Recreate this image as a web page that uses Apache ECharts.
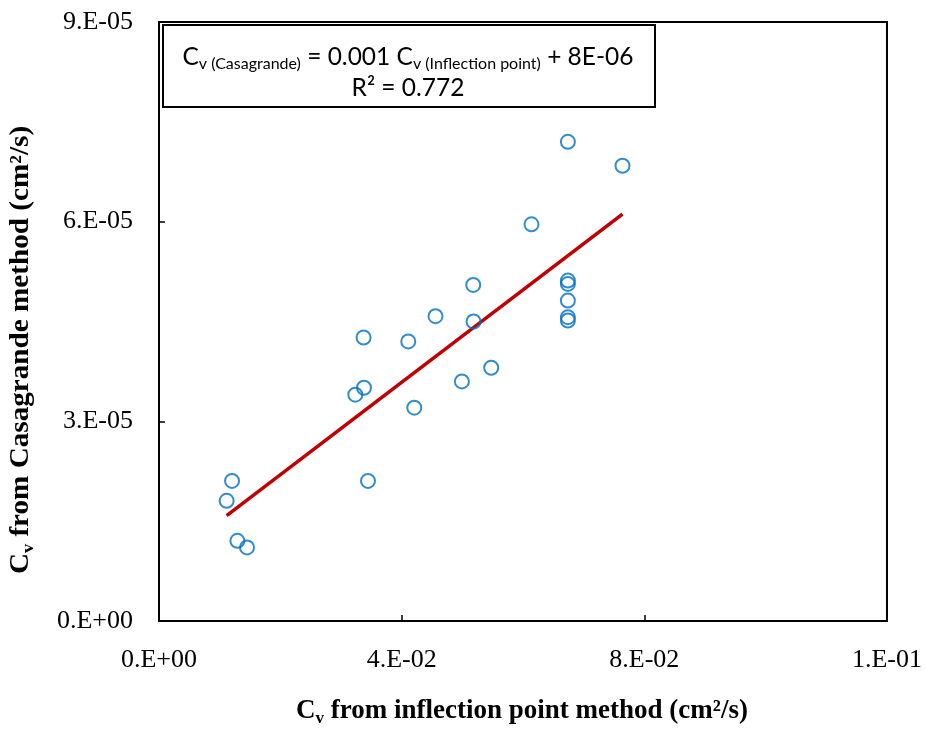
<!DOCTYPE html>
<html>
<head>
<meta charset="utf-8">
<script src="https://cdn.jsdelivr.net/npm/echarts@6/dist/echarts.min.js"></script>
<style>
html,body{margin:0;padding:0;background:#fff;}
#chart{width:925px;height:729px;}
</style>
</head>
<body>
<div id="chart"></div>
<script>
// Cv from inflection point method (cm2/s)
const xValues = [0.01115, 0.01204, 0.01292, 0.01451, 0.03236, 0.03379, 0.03372, 0.03445,
  0.04109, 0.04208, 0.04558, 0.04993, 0.0518, 0.05185, 0.05476, 0.0614, 0.0674, 0.0764,
  0.0674, 0.0674, 0.0674, 0.0674, 0.0674];
// Cv from Casagrande method (cm2/s)
const yValues = [1.805e-5, 2.105e-5, 1.205e-5, 1.105e-5, 3.40e-5, 3.505e-5, 4.26e-5, 2.105e-5,
  4.20e-5, 3.205e-5, 4.58e-5, 3.60e-5, 5.05e-5, 4.50e-5, 3.805e-5, 5.96e-5, 7.20e-5, 6.84e-5,
  5.115e-5, 5.065e-5, 4.815e-5, 4.565e-5, 4.515e-5];
const xTickLabels = ['0.E+00', '4.E-02', '8.E-02', '1.E-01'];
const yTickLabels = ['0.E+00', '3.E-05', '6.E-05', '9.E-05'];
const equationText = ['C', 'v (Casagrande)', ' = 0.001 C', 'v (Inflection point)', ' + 8E-06'];
const r2Text = 'R² = 0.772';

// least-squares trend line from the data
const n = xValues.length;
let sx = 0, sy = 0, sxx = 0, sxy = 0;
for (let i = 0; i < n; i++) { sx += xValues[i]; sy += yValues[i]; sxx += xValues[i]*xValues[i]; sxy += xValues[i]*yValues[i]; }
const slope = (n*sxy - sx*sy) / (n*sxx - sx*sx);
const intercept = (sy - slope*sx) / n;
const xMin = Math.min(...xValues), xMax = Math.max(...xValues);
const trend = [[xMin, intercept + slope*xMin], [xMax, intercept + slope*xMax]];
const points = xValues.map((x, i) => [x, yValues[i]]);

const chart = echarts.init(document.getElementById('chart'));
const serif = '"Liberation Serif", "Times New Roman", serif';
const sans = 'Lato, "Liberation Sans", sans-serif';
const titleRich = {
  a: {fontFamily: serif, fontWeight: 'bold', fontSize: 27, lineHeight: 32, color: '#000'},
  s: {fontFamily: serif, fontWeight: 'bold', fontSize: 17, lineHeight: 17, verticalAlign: 'bottom', color: '#000'}
};
chart.setOption({
  animation: false,
  backgroundColor: '#fff',
  grid: {left: 159, right: 38, top: 22, bottom: 108, show: true, borderColor: '#000', borderWidth: 2, backgroundColor: 'transparent'},
  xAxis: {
    type: 'value', min: 0, max: 0.12, interval: 0.04,
    axisLine: {show: true, lineStyle: {color: '#000', width: 2}},
    axisTick: {show: true, inside: true, length: 6, lineStyle: {color: '#000', width: 1.5}},
    splitLine: {show: false},
    axisLabel: {margin: 26, fontFamily: serif, fontSize: 26, color: '#000',
      formatter: (v, i) => xTickLabels[i]}
  },
  yAxis: {
    type: 'value', min: 0, max: 9e-5, interval: 3e-5,
    axisLine: {show: true, lineStyle: {color: '#000', width: 2}},
    axisTick: {show: true, inside: true, length: 6, lineStyle: {color: '#000', width: 1.5}},
    splitLine: {show: false},
    axisLabel: {margin: 26, fontFamily: serif, fontSize: 26, color: '#000',
      formatter: (v, i) => yTickLabels[i]}
  },
  series: [
    {
      type: 'scatter', data: points, symbol: 'circle', symbolSize: 14,
      itemStyle: {color: 'transparent', borderColor: '#0070C0', borderWidth: 2},
      z: 3
    },
    {
      type: 'line', data: trend, symbol: 'none', showSymbol: false,
      lineStyle: {color: '#C00000', width: 3.5}, z: 2
    }
  ],
  graphic: [
    {
      type: 'rect', z: 10,
      shape: {x: 163, y: 25, width: 492, height: 82},
      style: {fill: '#fff', stroke: '#000', lineWidth: 2}
    },
    {
      type: 'text', z: 11, x: 408, y: 57,
      style: {
        text: '{m|' + equationText[0] + '}{s|' + equationText[1] + '}{m|' + equationText[2] + '}{s|' + equationText[3] + '}{m|' + equationText[4] + '}',
        rich: {
          m: {fontFamily: sans, fontSize: 24.5, lineHeight: 30, color: '#000'},
          s: {fontFamily: sans, fontSize: 16, lineHeight: 16, verticalAlign: 'bottom', color: '#000'}
        },
        align: 'center', verticalAlign: 'middle', textAlign: 'center', textVerticalAlign: 'middle'
      }
    },
    {
      type: 'text', z: 11, x: 408, y: 88,
      style: {
        text: r2Text, fontFamily: sans, fontSize: 24.5, fill: '#000',
        font: '24.5px ' + sans,
        align: 'center', verticalAlign: 'middle', textAlign: 'center', textVerticalAlign: 'middle'
      }
    },
    {
      type: 'text', x: 522, y: 711,
      style: {
        text: '{a|C}{s|v}{a| from inflection point method (cm²/s)}', rich: titleRich,
        align: 'center', verticalAlign: 'middle', textAlign: 'center', textVerticalAlign: 'middle'
      }
    },
    {
      type: 'text', x: 21, y: 350, rotation: Math.PI / 2, scaleX: 1.08,
      style: {
        text: '{a|C}{s|v}{a| from Casagrande method (cm²/s)}', rich: titleRich,
        align: 'center', verticalAlign: 'middle', textAlign: 'center', textVerticalAlign: 'middle'
      }
    }
  ]
});
</script>
</body>
</html>
